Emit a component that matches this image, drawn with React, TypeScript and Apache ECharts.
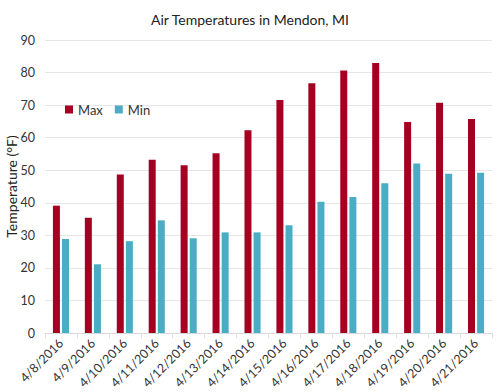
import React, { useEffect, useRef } from "react";
import * as echarts from "echarts";

const categories = [
  "4/8/2016", "4/9/2016", "4/10/2016", "4/11/2016", "4/12/2016", "4/13/2016", "4/14/2016",
  "4/15/2016", "4/16/2016", "4/17/2016", "4/18/2016", "4/19/2016", "4/20/2016", "4/21/2016",
];
const maxTemps = [39.1, 35.4, 48.7, 53.2, 51.5, 55.2, 62.3, 71.6, 76.7, 80.6, 82.9, 64.8, 70.7, 65.7];
const minTemps = [28.9, 21.1, 28.2, 34.6, 29.1, 30.9, 30.9, 33.1, 40.3, 41.8, 46.0, 52.1, 48.9, 49.2];

const FONT = "Lato";

export default function App() {
  const ref = useRef<HTMLDivElement>(null);
  useEffect(() => {
    const chart = echarts.init(ref.current!, null, { renderer: "svg" });
    chart.setOption({
      animation: false,
      backgroundColor: "#ffffff",
      textStyle: { fontFamily: FONT },
      title: {
        text: "Air Temperatures in Mendon, MI",
        left: "center",
        top: 7,
        textStyle: { fontFamily: FONT, fontSize: 14, fontWeight: "normal", color: "#222" },
      },
      legend: {
        left: 60,
        top: 98,
        itemWidth: 8,
        itemHeight: 8,
        itemGap: 12,
        icon: "rect",
        textStyle: { fontFamily: FONT, fontSize: 13, color: "#333" },
        data: ["Max", "Min"],
      },
      grid: { left: 45, right: 8, top: 40, bottom: 59, containLabel: false, outerBoundsMode: "none" },
      xAxis: {
        type: "category",
        data: categories,
        axisLine: { lineStyle: { color: "#d9d9d9" } },
        axisTick: { show: true, alignWithLabel: false, lineStyle: { color: "#e0e0e0" } },
        axisLabel: { rotate: 45, fontFamily: FONT, fontSize: 12.5, color: "#333", margin: 8, interval: 0 },
      },
      yAxis: {
        type: "value",
        min: 0,
        max: 90,
        interval: 10,
        name: "Temperature (°F)",
        nameLocation: "middle",
        nameGap: 34,
        nameMoveOverlap: false,
        nameTextStyle: { fontFamily: FONT, fontSize: 14, color: "#222", verticalAlign: "middle" },
        axisLine: { show: false },
        axisTick: { show: false },
        axisLabel: { fontFamily: FONT, fontSize: 12.5, color: "#333", margin: 10 },
        splitLine: { lineStyle: { color: "#e6e6e6" } },
      },
      series: [
        {
          name: "Max",
          type: "bar",
          data: maxTemps,
          barWidth: 7,
          barGap: "30%",
          itemStyle: { color: "#A50021" },
        },
        {
          name: "Min",
          type: "bar",
          data: minTemps,
          barWidth: 7,
          barGap: "30%",
          itemStyle: { color: "#4BACC6" },
        },
      ],
    });
    return () => chart.dispose();
  }, []);
  return <div ref={ref} style={{ width: 500, height: 392, position: "absolute", left: 0, top: 0 }} />;
}
